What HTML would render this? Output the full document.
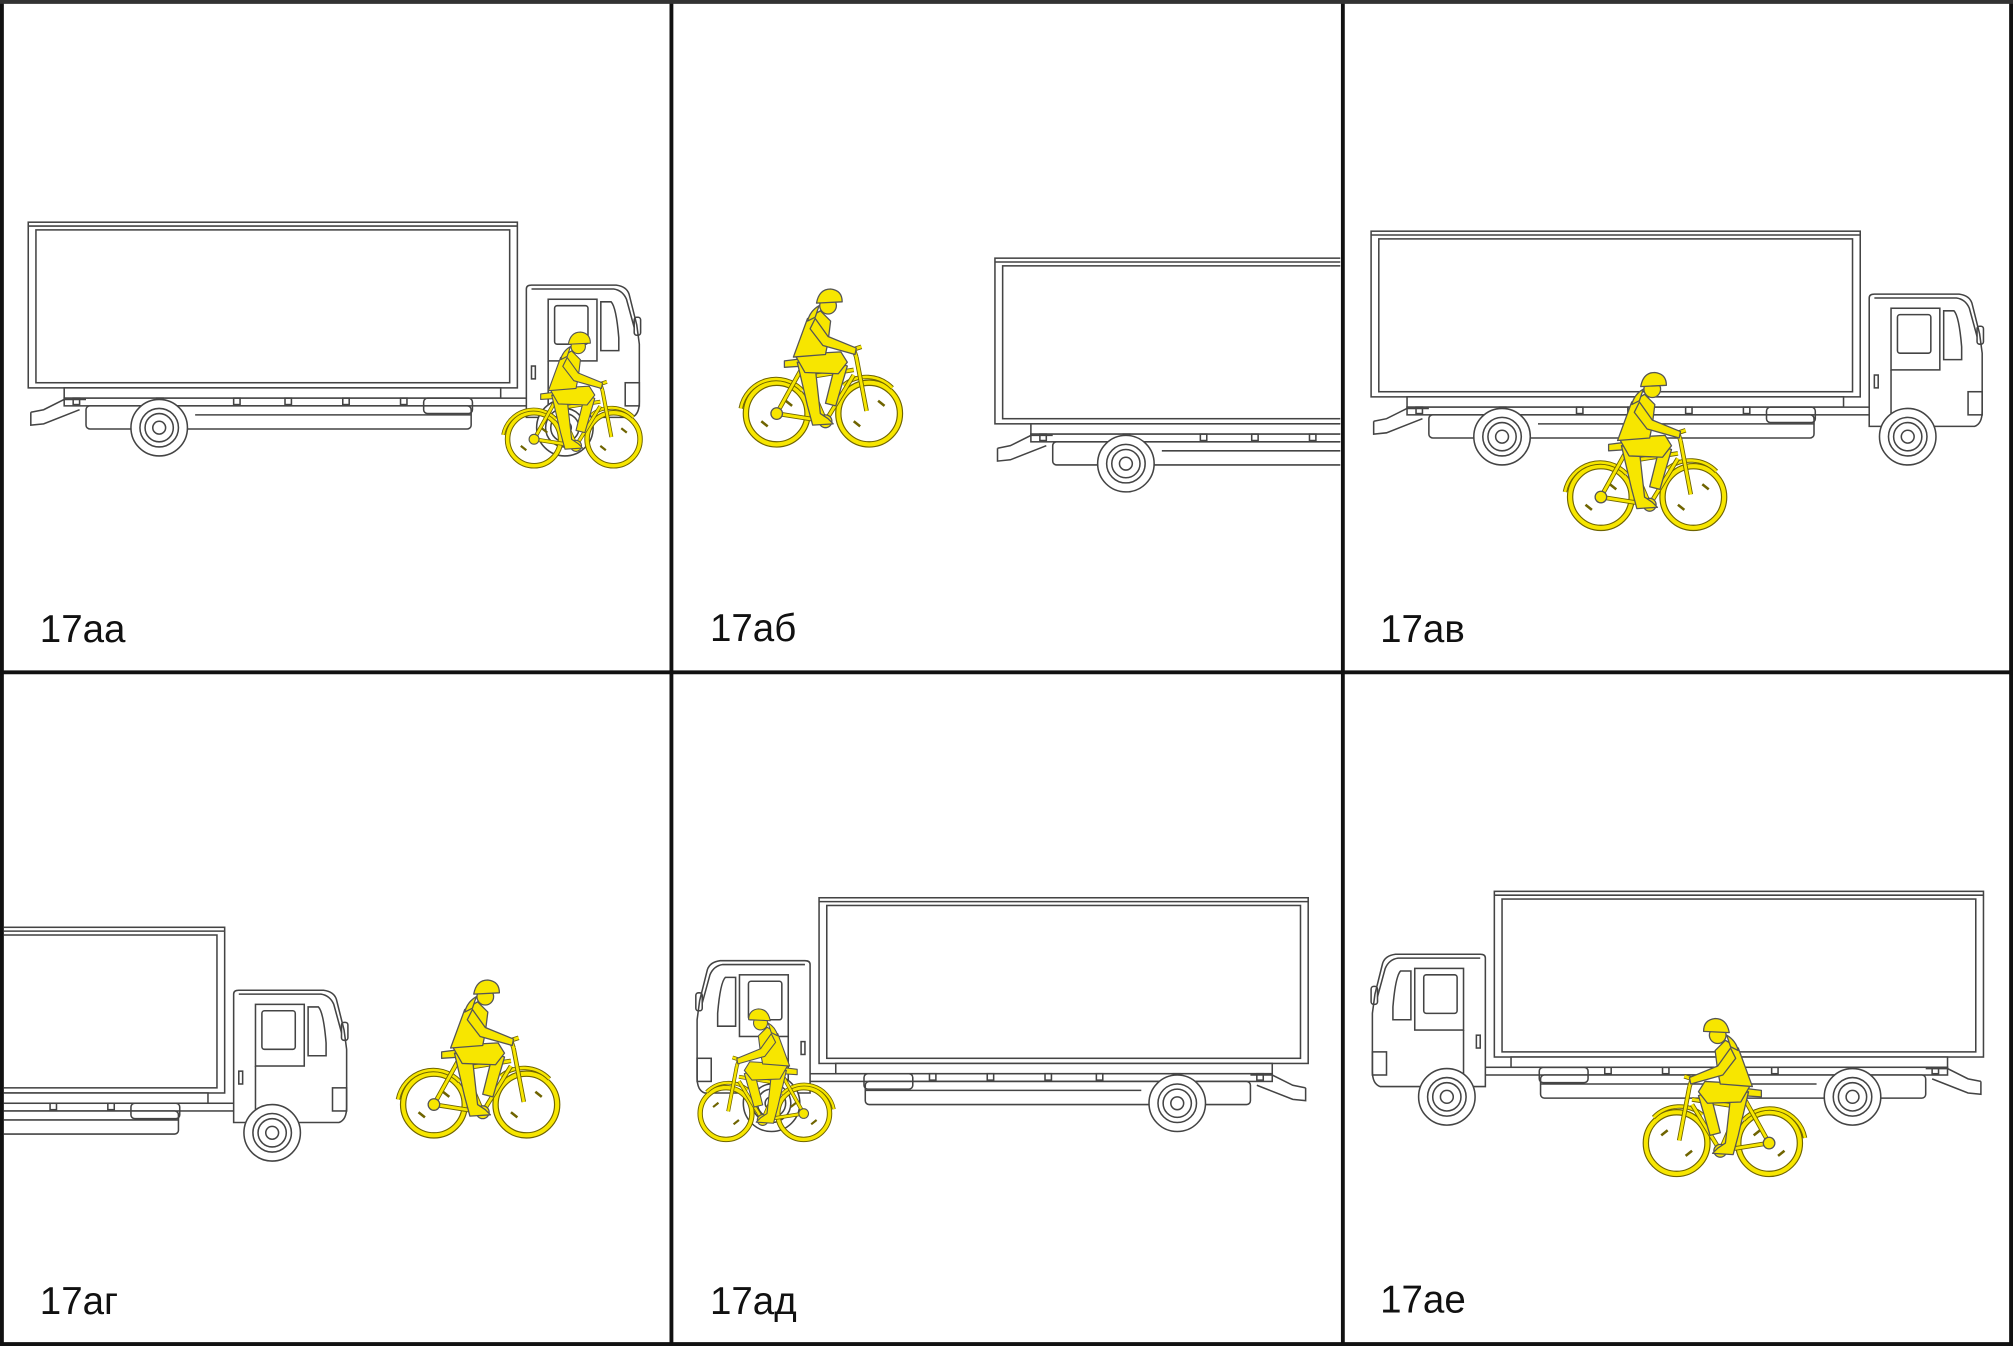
<!DOCTYPE html>
<html><head><meta charset="utf-8">
<style>
html,body{margin:0;padding:0;background:#fff;}
svg{display:block;}
text{font-family:"Liberation Sans","DejaVu Sans",sans-serif;font-size:30px;fill:#111;}
</style></head>
<body>
<svg width="2013" height="1346" viewBox="0 0 1568 1048" preserveAspectRatio="none" xmlns="http://www.w3.org/2000/svg">
<defs>
  <symbol id="truck" overflow="visible">
    <g fill="none" stroke="#444" stroke-width="1.2">
      <rect x="0" y="0" width="381" height="129" fill="#fff"/>
      <rect x="6" y="6" width="369" height="119"/>
      <line x1="0" y1="3" x2="381" y2="3"/>
      <rect x="28" y="129" width="340" height="8" fill="#fff"/>
      <rect x="28" y="137" width="440" height="6" fill="#fff"/>
      <rect x="45" y="143" width="300" height="18" rx="3" fill="#fff"/>
      <line x1="130" y1="150" x2="345" y2="150"/>
      <rect x="308" y="137" width="38" height="12" rx="3"/>
      <path d="M2 148 L12 146 L28 138 L45 138 M2 148 L2 158 L12 157 L40 146"/>
      <g>
        <rect x="35" y="137" width="5" height="5"/><rect x="100" y="137" width="5" height="5"/>
        <rect x="160" y="137" width="5" height="5"/><rect x="200" y="137" width="5" height="5"/>
        <rect x="245" y="137" width="5" height="5"/><rect x="290" y="137" width="5" height="5"/>
      </g>
      <path d="M388 145 L388 52 Q388 49 392 49 L458 49 Q466 50 468 56 L474 80 L476 95 L476 140 Q476 150 470 152 L388 152 Z" fill="#fff"/>
      <path d="M392 52 L456 52 Q463 53 466 60 L472 82"/>
      <rect x="405" y="60" width="38" height="48"/>
      <rect x="410" y="65" width="26" height="30" rx="2"/>
      <path d="M446 62 L454 62 Q458 66 460 90 L460 100 L446 100 Z"/>
      <rect x="472" y="74" width="5" height="14" rx="2"/>
      <line x1="405" y1="108" x2="405" y2="150"/>
      <rect x="465" y="125" width="11" height="18"/>
      <rect x="392" y="112" width="3" height="10"/>
      <circle cx="102" cy="160" r="22" fill="#fff"/>
      <circle cx="102" cy="160" r="15"/>
      <circle cx="102" cy="160" r="5"/>
      <circle cx="102" cy="160" r="11"/>
      <circle cx="418" cy="160" r="22" fill="#fff"/>
      <circle cx="418" cy="160" r="15"/>
      <circle cx="418" cy="160" r="11"/>
      <circle cx="418" cy="160" r="5"/>
    </g>
  </symbol>
  <symbol id="cyclist" overflow="visible">
    <g stroke="#555" stroke-width="1" stroke-linejoin="round">
      <g fill="none">
        <circle cx="0" cy="0" r="24" stroke="#6f6400" stroke-width="5"/>
        <circle cx="0" cy="0" r="24" stroke="#f7e600" stroke-width="3.2"/>
        <circle cx="72" cy="0" r="24" stroke="#6f6400" stroke-width="5"/>
        <circle cx="72" cy="0" r="24" stroke="#f7e600" stroke-width="3.2"/>
        <path d="M-28 -4 A28 28 0 0 1 20 -18" stroke="#6f6400" stroke-width="3.5"/>
        <path d="M-28 -4 A28 28 0 0 1 20 -18" stroke="#f7e600" stroke-width="2"/>
        <path d="M52 -22 A28 28 0 0 1 90 -20" stroke="#6f6400" stroke-width="3.5"/>
        <path d="M52 -22 A28 28 0 0 1 90 -20" stroke="#f7e600" stroke-width="2"/>
        <path d="M0 0 L38 6 L20 -36 Z M22 -28 L60 -34 M38 6 L60 -30 M62 -44 L70 -2 M62 -44 L60 -50 L66 -52" stroke="#6f6400" stroke-width="3.6"/>
        <path d="M0 0 L38 6 L20 -36 Z M22 -28 L60 -34 M38 6 L60 -30 M62 -44 L70 -2 M62 -44 L60 -50 L66 -52" stroke="#f7e600" stroke-width="2.2"/>
      </g>
      <g fill="#f7e600">
        <circle cx="0" cy="0" r="4.5"/>
        <circle cx="38" cy="6" r="5"/>
        <path d="M6 -41 L22 -43 L22 -37 L6 -36 Z"/>
        <path d="M16 -40 L30 -36 L34 0 L40 4 L44 8 L28 9 L24 -6 Z"/>
        <path d="M46 -40 L55 -37 L46 -6 L38 -8 Z"/>
        <path d="M14 -46 L50 -48 L55 -40 L48 -31 L22 -32 Z"/>
        <path d="M13 -44 L24 -74 L34 -80 L42 -72 L40 -56 L38 -46 Z"/>
        <path d="M30 -74 L40 -60 L62 -51 L61 -46 L36 -53 L26 -66 Z"/>
        <circle cx="40" cy="-84" r="6.5"/>
        <path d="M31 -86 Q33 -97 42 -97 Q51 -96 51 -87 Z"/>
        <path d="M33 -84 Q26 -80 24 -72 L30 -75 Z"/>
      </g>
      <g stroke="#6f6400" stroke-width="2" fill="none">
        <line x1="-12" y1="6" x2="-7" y2="10"/><line x1="7" y1="-10" x2="12" y2="-6"/>
        <line x1="60" y1="6" x2="65" y2="10"/><line x1="79" y1="-10" x2="84" y2="-6"/>
      </g>
    </g>
  </symbol>
  <clipPath id="c1"><rect x="3" y="3" width="518" height="518"/></clipPath>
  <clipPath id="c2"><rect x="525" y="3" width="519" height="518"/></clipPath>
  <clipPath id="c3"><rect x="1048" y="3" width="517" height="518"/></clipPath>
  <clipPath id="c4"><rect x="3" y="526" width="518" height="519"/></clipPath>
  <clipPath id="c5"><rect x="525" y="526" width="519" height="519"/></clipPath>
  <clipPath id="c6"><rect x="1048" y="526" width="517" height="519"/></clipPath>
</defs>
<rect x="0" y="0" width="1568" height="1048" fill="#fff"/>

<g clip-path="url(#c1)">
  <use href="#truck" x="22" y="173"/>
  <g transform="translate(416,342) scale(0.86)"><use href="#cyclist"/></g>
  <text x="31" y="500">17аа</text>
</g>
<g clip-path="url(#c2)">
  <use href="#truck" x="775" y="201"/>
  <use href="#cyclist" x="605" y="322"/>
  <text x="553" y="499">17аб</text>
</g>
<g clip-path="url(#c3)">
  <use href="#truck" x="1068" y="180"/>
  <use href="#cyclist" x="1247" y="387"/>
  <text x="1075" y="500">17ав</text>
</g>
<g clip-path="url(#c4)">
  <use href="#truck" x="-206" y="722"/>
  <use href="#cyclist" x="338" y="860"/>
  <text x="31" y="1023">17аг</text>
</g>
<g clip-path="url(#c5)">
  <g transform="translate(1019,699) scale(-1,1)"><use href="#truck"/></g>
  <g transform="translate(626,867) scale(-0.84,0.84)"><use href="#cyclist"/></g>
  <text x="553" y="1023">17ад</text>
</g>
<g clip-path="url(#c6)">
  <g transform="translate(1545,694) scale(-1,1)"><use href="#truck"/></g>
  <g transform="translate(1378,890) scale(-1,1)"><use href="#cyclist"/></g>
  <text x="1075" y="1022">17ае</text>
</g>

<g stroke="#111" stroke-width="3">
  <line x1="1.5" y1="0" x2="1.5" y2="1048"/>
  <line x1="523" y1="0" x2="523" y2="1048"/>
  <line x1="1046" y1="0" x2="1046" y2="1048"/>
  <line x1="1566.5" y1="0" x2="1566.5" y2="1048"/>
  <line x1="0" y1="523.5" x2="1568" y2="523.5"/>
  <line x1="0" y1="1046.5" x2="1568" y2="1046.5"/>
  <line x1="0" y1="1.5" x2="1568" y2="1.5" stroke="#333"/>
</g>
</svg>
</body></html>
